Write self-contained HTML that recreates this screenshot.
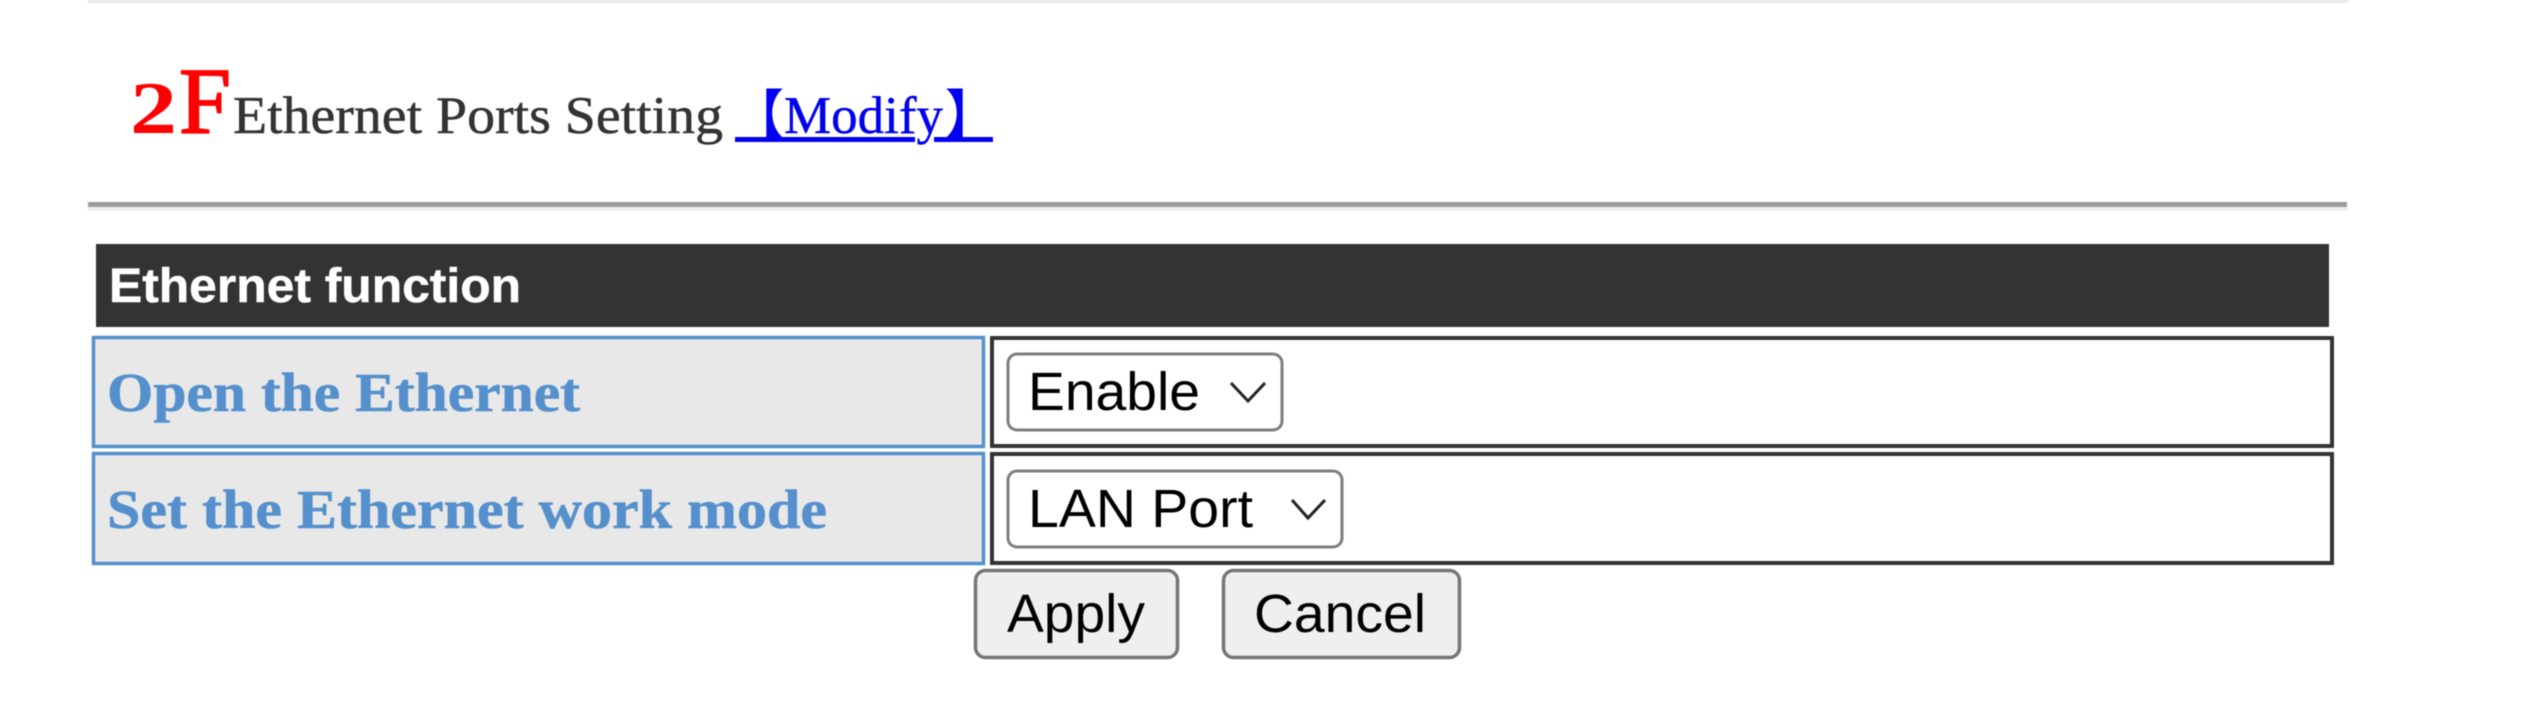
<!DOCTYPE html>
<html>
<head>
<meta charset="utf-8">
<style>
html,body{margin:0;padding:0;background:#fff;width:2538px;height:709px;overflow:hidden}
svg{display:block;filter:blur(0.6px)}
.s{font-family:"Liberation Serif",serif}
.a{font-family:"Liberation Sans",Arial,sans-serif}
.c{font-family:"Noto Sans CJK SC","Liberation Sans",sans-serif;font-weight:700}
</style>
</head>
<body>
<svg width="2538" height="709" viewBox="0 0 2538 709" xmlns="http://www.w3.org/2000/svg">
<rect width="2538" height="709" fill="#fff"/>
<!-- top and header rules -->
<rect x="88" y="0" width="2260" height="3" fill="#e8e8e8"/>
<rect x="88" y="207" width="2260" height="4" fill="#eeeeee"/>
<rect x="88" y="202" width="2259" height="5" fill="#9c9c9c"/>
<!-- heading -->
<text class="s" x="130" y="133" font-size="74" font-weight="700" fill="#ff0000" textLength="47" lengthAdjust="spacingAndGlyphs">2</text>
<text class="s" x="179" y="133" font-size="94" fill="#ff0000" stroke="#ff0000" stroke-width="1.800" textLength="52" lengthAdjust="spacingAndGlyphs">F</text>
<text class="s" x="233" y="133" font-size="53" fill="#333333" stroke="#333333" stroke-width="0.500" textLength="490" lengthAdjust="spacingAndGlyphs">Ethernet Ports Setting</text>
<rect x="735" y="137" width="180" height="5" fill="#0000ee"/>
<rect x="934" y="137" width="59" height="5" fill="#0000ee"/>
<text class="c" x="732" y="133" font-size="52" fill="#0000ee">【</text>
<text class="s" x="784" y="133" font-size="53" fill="#0000ee" stroke="#0000ee" stroke-width="0.400" textLength="159" lengthAdjust="spacingAndGlyphs">Modify</text>
<text class="c" x="945" y="133" font-size="52" fill="#0000ee">】</text>
<!-- bar -->
<rect x="96" y="244" width="2233" height="83" fill="#333333"/>
<text class="a" x="109" y="302" font-size="48" font-weight="700" fill="#ffffff" stroke="#ffffff" stroke-width="0.500" textLength="412" lengthAdjust="spacingAndGlyphs">Ethernet function</text>
<!-- left cells -->
<rect x="93.500" y="337.500" width="890" height="109" fill="#e8e8e8" stroke="#5590cc" stroke-width="3.500"/>
<rect x="93.500" y="453.500" width="890" height="110" fill="#e8e8e8" stroke="#5590cc" stroke-width="3.500"/>
<text class="s" x="107" y="411" font-size="55" font-weight="700" fill="#5590cc" stroke="#5590cc" stroke-width="0.600" textLength="473" lengthAdjust="spacingAndGlyphs">Open the Ethernet</text>
<text class="s" x="107" y="528" font-size="55" font-weight="700" fill="#5590cc" stroke="#5590cc" stroke-width="0.600" textLength="720" lengthAdjust="spacingAndGlyphs">Set the Ethernet work mode</text>
<!-- right cells -->
<rect x="992" y="338" width="1340" height="108" fill="#fff" stroke="#333333" stroke-width="4"/>
<rect x="992" y="454" width="1340" height="109" fill="#fff" stroke="#333333" stroke-width="4"/>
<!-- selects -->
<rect x="1008" y="354" width="274" height="76" rx="9" fill="#fff" stroke="#7f7f7f" stroke-width="3"/>
<text class="a" x="1028" y="410" font-size="54" fill="#000" textLength="172" lengthAdjust="spacingAndGlyphs">Enable</text>
<polyline points="1231,383 1248,401 1265,383" fill="none" stroke="#222" stroke-width="3"/>
<rect x="1008" y="471" width="334" height="76" rx="9" fill="#fff" stroke="#7f7f7f" stroke-width="3"/>
<text class="a" x="1028" y="527" font-size="54" fill="#000" textLength="225" lengthAdjust="spacingAndGlyphs">LAN Port</text>
<polyline points="1292,500 1308,518 1325,500" fill="none" stroke="#222" stroke-width="3"/>
<!-- buttons -->
<rect x="975.500" y="570.500" width="202" height="87" rx="10" fill="#efefef" stroke="#767676" stroke-width="3.500"/>
<text class="a" x="1007" y="632" font-size="54" fill="#000" textLength="138" lengthAdjust="spacingAndGlyphs">Apply</text>
<rect x="1223.500" y="570.500" width="236" height="87" rx="10" fill="#efefef" stroke="#767676" stroke-width="3.500"/>
<text class="a" x="1254" y="632" font-size="54" fill="#000" textLength="172" lengthAdjust="spacingAndGlyphs">Cancel</text>
</svg>
</body>
</html>
